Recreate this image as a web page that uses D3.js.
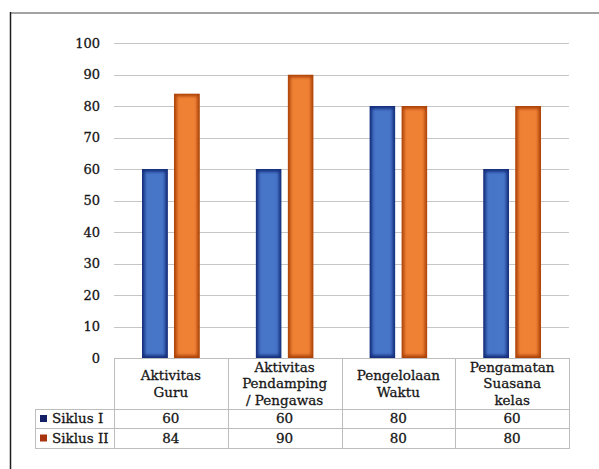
<!DOCTYPE html>
<html>
<head>
<meta charset="utf-8">
<script src="https://cdn.jsdelivr.net/npm/d3@7"></script>
<style>
  html, body { margin: 0; padding: 0; background: #fff; }
  svg { display: block; }
  text { font-family: "DejaVu Serif", "Liberation Serif", serif; fill: #161616; stroke: #161616; stroke-width: 0.3px; }
</style>
</head>
<body>
<svg id="chart" width="599" height="469"></svg>
<script>
// Chart data
const categories = ["Aktivitas Guru", "Aktivitas Pendamping / Pengawas", "Pengelolaan Waktu", "Pengamatan Suasana kelas"];
const categoryLines = [
  ["Aktivitas", "Guru"],
  ["Aktivitas", "Pendamping", "/ Pengawas"],
  ["Pengelolaan", "Waktu"],
  ["Pengamatan", "Suasana", "kelas"]
];
const seriesNames = ["Siklus I", "Siklus II"];
const siklus1 = [60, 60, 80, 60];
const siklus2 = [84, 90, 80, 80];
const yTicks = [0, 10, 20, 30, 40, 50, 60, 70, 80, 90, 100];

const seriesValues = [siklus1, siklus2];
const seriesStyle = [
  { edge: "#142e7c", face: "#4775c8", swatch: "#141f66" },
  { edge: "#ad4308", face: "#ef8136", swatch: "#a7330f" }
];

const svg = d3.select("#chart");
const defs = svg.append("defs");
defs.append("filter").attr("id", "soft")
  .attr("x", "-20%").attr("y", "-20%").attr("width", "140%").attr("height", "140%")
  .append("feGaussianBlur").attr("stdDeviation", 1.7);

// Layout
const plotLeft = 114, plotRight = 569, plotTop = 43, plotBottom = 358;
const headerBottom = 409, row1Bottom = 428, row2Bottom = 448, legendLeft = 35;

const y = d3.scaleLinear().domain([0, 100]).range([plotBottom, plotTop]);
const x0 = d3.scaleBand().domain(categories).range([plotLeft, plotRight]).paddingInner(0).paddingOuter(0);
const groupWidth = 58;
const x1 = d3.scaleBand().domain(seriesNames).range([0, groupWidth]).paddingInner(0.1875).paddingOuter(0);

// Frame lines
svg.append("line").attr("x1", 10).attr("x2", 599).attr("y1", 13).attr("y2", 13)
  .attr("stroke", "#a3a3a3").attr("stroke-width", 2);
svg.append("line").attr("x1", 10.5).attr("x2", 10.5).attr("y1", 12).attr("y2", 469)
  .attr("stroke", "#1e1e1e").attr("stroke-width", 1.5);

// Gridlines
svg.append("g").selectAll("line").data(yTicks.filter(d => d > 0)).join("line")
  .attr("x1", plotLeft).attr("x2", plotRight)
  .attr("y1", d => Math.round(y(d)) + 0.5).attr("y2", d => Math.round(y(d)) + 0.5)
  .attr("stroke", "#c6c6c6").attr("stroke-width", 1.2);

// Y axis labels
const yAxis = d3.axisLeft(y).tickValues(yTicks).tickSize(0).tickPadding(0).tickFormat(d3.format("d"));
const yg = svg.append("g").attr("transform", "translate(100,0)").call(yAxis);
yg.select(".domain").remove();
yg.selectAll("text").attr("font-size", 13).attr("font-family", "DejaVu Serif, serif").attr("fill", "#161616");

// Bars
const groups = svg.append("g").selectAll("g").data(categories).join("g")
  .attr("transform", d => `translate(${x0(d) + x0.bandwidth() / 2 - groupWidth / 2},0)`);

groups.each(function(cat, ci) {
  const g = d3.select(this);
  seriesNames.forEach((s, si) => {
    const v = seriesValues[si][ci];
    const bx = x1(s), bw = x1.bandwidth();
    const by = y(v), bh = y(0) - y(v);
    const clipId = `clip-${ci}-${si}`;
    defs.append("clipPath").attr("id", clipId)
      .append("rect").attr("x", bx).attr("y", by).attr("width", bw).attr("height", bh);
    const bar = g.append("g").attr("clip-path", `url(#${clipId})`);
    bar.append("rect").attr("x", bx).attr("y", by).attr("width", bw).attr("height", bh)
      .attr("fill", seriesStyle[si].edge);
    bar.append("rect").attr("x", bx + 2.8).attr("y", by + 2.8)
      .attr("width", bw - 5.6).attr("height", Math.max(0, bh - 5.6))
      .attr("fill", seriesStyle[si].face).attr("filter", "url(#soft)");
  });
});

// Data table
const table = svg.append("g").attr("stroke", "#bdbdbd").attr("stroke-width", 1);
table.append("line").attr("x1", plotLeft).attr("x2", plotRight).attr("y1", plotBottom + 0.5).attr("y2", plotBottom + 0.5);
[headerBottom, row1Bottom, row2Bottom].forEach(yy => {
  table.append("line").attr("x1", legendLeft).attr("x2", plotRight).attr("y1", yy + 0.5).attr("y2", yy + 0.5);
});
table.append("line").attr("x1", legendLeft + 0.5).attr("x2", legendLeft + 0.5).attr("y1", headerBottom).attr("y2", row2Bottom + 1);
const colEdges = categories.map(c => x0(c)).concat([plotRight]);
colEdges.forEach(xx => {
  table.append("line").attr("x1", Math.round(xx) + 0.5).attr("x2", Math.round(xx) + 0.5)
    .attr("y1", plotBottom).attr("y2", row2Bottom + 1);
});

// Header labels
const headerMid = (plotBottom + headerBottom) / 2;
const lineH = 16.5;
categories.forEach((c, ci) => {
  const lines = categoryLines[ci];
  const cx = x0(c) + x0.bandwidth() / 2;
  const t = svg.append("text").attr("text-anchor", "middle").attr("font-size", 13.5);
  lines.forEach((ln, li) => {
    t.append("tspan").attr("x", cx)
      .attr("y", headerMid + (li - (lines.length - 1) / 2) * lineH)
      .attr("dy", "0.36em").text(ln);
  });
});

// Value rows and legend keys
const rowMids = [(headerBottom + row1Bottom) / 2, (row1Bottom + row2Bottom) / 2];
seriesNames.forEach((s, si) => {
  svg.append("rect").attr("x", 40).attr("y", rowMids[si] - 3.5).attr("width", 7).attr("height", 7)
    .attr("fill", seriesStyle[si].swatch);
  svg.append("text").attr("x", 52).attr("y", rowMids[si]).attr("dy", "0.36em")
    .attr("font-size", 13.5).text(s);
  categories.forEach((c, ci) => {
    svg.append("text").attr("x", x0(c) + x0.bandwidth() / 2).attr("y", rowMids[si]).attr("dy", "0.36em")
      .attr("text-anchor", "middle").attr("font-size", 13.5).text(seriesValues[si][ci]);
  });
});
</script>
</body>
</html>
